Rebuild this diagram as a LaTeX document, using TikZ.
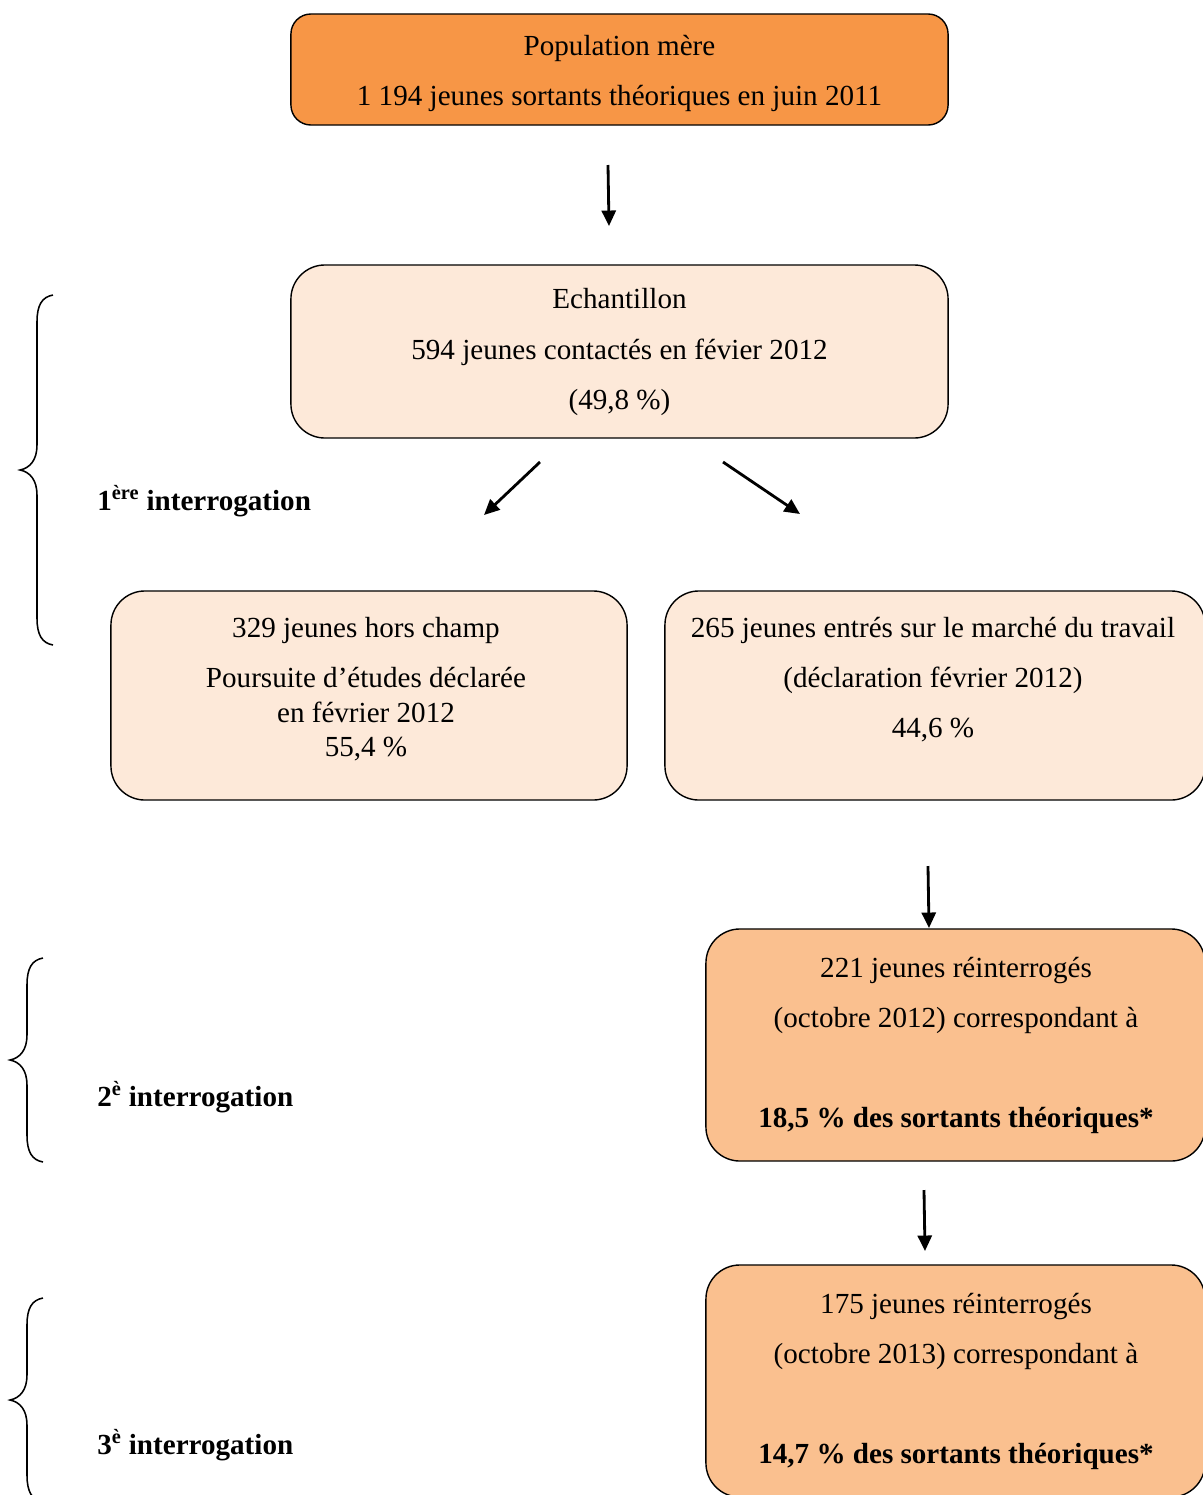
\documentclass[tikz,border=0pt]{standalone}
\usepackage{fontspec}
\setmainfont{Liberation Serif}
\usetikzlibrary{arrows.meta}

\definecolor{motherfill}{RGB}{247,150,70}
\definecolor{samplefill}{RGB}{253,233,217}
\definecolor{followfill}{RGB}{250,192,143}

\begin{document}
\begin{tikzpicture}[x=0.025cm,y=-0.025cm]

\tikzset{
  basebox/.style={
    draw=black,
    line width=1pt,
    rounded corners=0.85cm,
    inner sep=0pt
  },
  motherbox/.style={
    basebox,
    fill=motherfill,
    rounded corners=0.5cm
  },
  samplebox/.style={
    basebox,
    fill=samplefill
  },
  followbox/.style={
    basebox,
    fill=followfill
  },
  boxtext/.style={
    align=center,
    inner sep=0pt,
    font=\fontsize{20.7}{35.6}\selectfont
  },
  phaselabel/.style={
    anchor=base west,
    inner sep=0pt,
    font=\bfseries\fontsize{20.7}{25}\selectfont
  },
  flow/.style={
    -{Triangle[length=11pt,width=10pt]},
    line width=2pt
  },
  bracket/.style={
    line width=1.1pt
  }
}

% Page frame (the reference is cut on the right and at the bottom)
\useasboundingbox (0,0) rectangle (1203,1495);
\clip (0,0) rectangle (1203,1495);

%%%%%%%%%%%%%%%%%%%%%%%%%%%%%%%%%%%%%%%%%%%%%%%%%%%%%%%%%%%%
%% Boxes
%%%%%%%%%%%%%%%%%%%%%%%%%%%%%%%%%%%%%%%%%%%%%%%%%%%%%%%%%%%%

% Mother population
\node[motherbox, minimum width=16.425cm, minimum height=2.775cm]
  (mother) at (619.5,69.5) {};

% Sample
\node[samplebox, minimum width=16.425cm, minimum height=4.325cm]
  (sample) at (619.5,351.5) {};

% Out of scope / labour market
\node[samplebox, minimum width=12.9cm, minimum height=5.225cm]
  (outscope) at (369,695.5) {};
\node[samplebox, minimum width=13.5cm, minimum height=5.225cm]
  (market) at (935,695.5) {};

% Follow-up waves
\node[followbox, minimum width=12.475cm, minimum height=5.8cm]
  (wave2) at (955.5,1045) {};
\node[followbox, minimum width=12.475cm, minimum height=5.8cm]
  (wave3) at (955.5,1381) {};

%%%%%%%%%%%%%%%%%%%%%%%%%%%%%%%%%%%%%%%%%%%%%%%%%%%%%%%%%%%%
%% Box texts
%%%%%%%%%%%%%%%%%%%%%%%%%%%%%%%%%%%%%%%%%%%%%%%%%%%%%%%%%%%%

\node[boxtext] (mothertxt) at (619.5,73.5)
  {Population mère\\
   1 194 jeunes sortants théoriques en juin 2011};

\node[boxtext] (sampletxt) at (619.5,352)
  {Echantillon\\
   594 jeunes contactés en févier 2012\\
   (49,8 \%)};

\node[boxtext] (outscopetxt) at (366,689.5)
  {329 jeunes hors champ\\
   Poursuite d’études déclarée\\[-11.1pt]
   en février 2012\\[-11.1pt]
   55,4 \%};

\node[boxtext] (markettxt) at (933,680)
  {265 jeunes entrés sur le marché du travail\\
   (déclaration février 2012)\\
   44,6 \%};

\node[boxtext] (wave2txt) at (956,1045.7)
  {221 jeunes réinterrogés\\
   (octobre 2012) correspondant à\\[35.6pt]
   \textbf{18,5 \% des sortants théoriques*}};

\node[boxtext] (wave3txt) at (956,1381.2)
  {175 jeunes réinterrogés\\
   (octobre 2013) correspondant à\\[35.6pt]
   \textbf{14,7 \% des sortants théoriques*}};

%%%%%%%%%%%%%%%%%%%%%%%%%%%%%%%%%%%%%%%%%%%%%%%%%%%%%%%%%%%%
%% Arrows
%%%%%%%%%%%%%%%%%%%%%%%%%%%%%%%%%%%%%%%%%%%%%%%%%%%%%%%%%%%%

\coordinate (a1s) at (608,165);
\coordinate (a1e) at (609,226);
\coordinate (a2s) at (540,462);
\coordinate (a2e) at (484,515);
\coordinate (a3s) at (723,462);
\coordinate (a3e) at (800,514);
\coordinate (a4s) at (928,866);
\coordinate (a4e) at (929,928);
\coordinate (a5s) at (924,1190);
\coordinate (a5e) at (925,1251);

\draw[flow] (a1s) -- (a1e);
\draw[flow] (a2s) -- (a2e);
\draw[flow] (a3s) -- (a3e);
\draw[flow] (a4s) -- (a4e);
\draw[flow] (a5s) -- (a5e);

%%%%%%%%%%%%%%%%%%%%%%%%%%%%%%%%%%%%%%%%%%%%%%%%%%%%%%%%%%%%
%% Braces and wave labels
%%%%%%%%%%%%%%%%%%%%%%%%%%%%%%%%%%%%%%%%%%%%%%%%%%%%%%%%%%%%

% First wave
\draw[bracket]
  (53,295) .. controls (42,297) and (37,305) .. (37,322)
  -- (37,445) .. controls (37,460) and (30,468) .. (20,470)
  .. controls (30,472) and (37,480) .. (37,495)
  -- (37,618) .. controls (37,635) and (42,643) .. (53,645);

% Second wave
\draw[bracket]
  (43,958) .. controls (32,960) and (27,968) .. (27,985)
  -- (27,1035) .. controls (27,1050) and (20,1058) .. (10,1060)
  .. controls (20,1062) and (27,1070) .. (27,1085)
  -- (27,1135) .. controls (27,1152) and (32,1160) .. (43,1162);

% Third wave
\draw[bracket]
  (43,1298) .. controls (32,1300) and (27,1308) .. (27,1325)
  -- (27,1375) .. controls (27,1390) and (20,1398) .. (10,1400)
  .. controls (20,1402) and (27,1410) .. (27,1425)
  -- (27,1475) .. controls (27,1492) and (32,1500) .. (43,1502);

\node[phaselabel] (wave1lbl) at (97,510)
  {1\textsuperscript{ère} interrogation};
\node[phaselabel] (wave2lbl) at (97,1106)
  {2\textsuperscript{è} interrogation};
\node[phaselabel] (wave3lbl) at (97,1454)
  {3\textsuperscript{è} interrogation};

\end{tikzpicture}
\end{document}
